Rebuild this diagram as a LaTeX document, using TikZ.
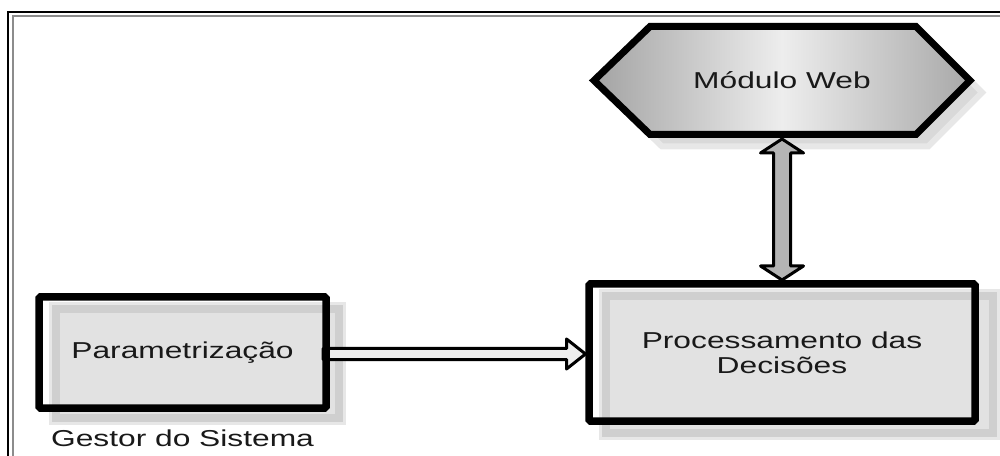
\documentclass[tikz,border=0pt]{standalone}
\usepackage{fontspec}
\setmainfont{Liberation Sans}[FakeStretch=1.38]
\usetikzlibrary{calc}
\pgfdeclarelayer{bg}
\pgfsetlayers{bg,main}
\definecolor{shfill}{HTML}{E2E2E2}
\definecolor{shband}{HTML}{CFCFCF}
\definecolor{shfade}{HTML}{E7E7E7}
\definecolor{framegray}{HTML}{8C8C8C}
\definecolor{arrowgray}{HTML}{B4B4B4}
\definecolor{arrowlight}{HTML}{EEEEEE}
\definecolor{hexshadow}{HTML}{D9D9D9}
\begin{document}
\begin{tikzpicture}[x=1pt,y=1pt,
  lbl/.style={font=\fontsize{23}{25}\selectfont, text=black!90, inner sep=0pt, outer sep=0pt},
  box/.style={draw=black, line width=7.5pt, rounded corners=1.5pt, inner sep=0pt, outer sep=0pt},
  shadowfade/.style={draw=shfade, line width=14pt},
  shadowband/.style={fill=shfill, draw=shband, line width=8pt},
  blockarrow/.style={draw=black, line width=3pt, line join=round},
  hexfill/.style={left color=black!36, right color=black!34, middle color=black!7, draw=black, line width=7pt, line join=miter},
]
\useasboundingbox (0,0) rectangle (1000,455);

% frame
\draw[black, line width=2.5pt] (8,-2) -- (8,443) -- (1002,443);
\draw[framegray, line width=2pt] (13,-2) -- (13,439) -- (1002,439);

% nodes
\node[box, lbl, minimum width=287pt, minimum height=111pt] (param) at (182.5,102.5) {Parametrização};
\node[box, lbl, align=center, minimum width=386pt, minimum height=137pt] (proc) at (782,102.5) {Processamento das\\Decisões};
\node[lbl, minimum width=376pt, minimum height=108pt] (web) at (782,374.5) {Módulo Web};
\node[lbl, anchor=base] (gestor) at (182.5,9) {Gestor do Sistema};

% hexagon corners
\coordinate (h1) at (web.west);
\coordinate (h2) at ($(web.north west)+(56,0)$);
\coordinate (h3) at ($(web.north east)+(-54,0)$);
\coordinate (h4) at (web.east);
\coordinate (h5) at ($(web.south east)+(-54,0)$);
\coordinate (h6) at ($(web.south west)+(56,0)$);

% connector end points
\coordinate (wt) at ($(web.south)+(0,-4.5)$);
\coordinate (pt) at ($(proc.north)+(0,4)$);
\coordinate (hs) at ($(param.east)+(-3,-1.5)$);
\coordinate (he) at ($(proc.west)+(-3.5,-1.5)$);

\begin{pgfonlayer}{bg}
  % box shadows
  \draw[shadowfade] ($(param.north west)+(17,-12)$) rectangle ($(param.south east)+(13,-10)$);
  \draw[shadowband] ($(param.north west)+(17,-12)$) rectangle ($(param.south east)+(13,-10)$);
  \draw[shadowfade] ($(proc.north west)+(17,-12)$) rectangle ($(proc.south east)+(18,-12)$);
  \draw[shadowband] ($(proc.north west)+(17,-12)$) rectangle ($(proc.south east)+(18,-12)$);
  % hexagon shadow
  \draw[fill=hexshadow, draw=shfade, line width=6pt, line join=miter]
    ($(h1)+(12,-12)$) -- ($(h2)+(12,-12)$) -- ($(h3)+(12,-12)$) -- ($(h4)+(12,-12)$)
    -- ($(h5)+(12,-12)$) -- ($(h6)+(12,-12)$) -- cycle;
  % hexagon
  \draw[hexfill] (h1) -- (h2) -- (h3) -- (h4) -- (h5) -- (h6) -- cycle;
  % horizontal block arrow
  \draw[blockarrow, fill=arrowlight]
    ($(hs)+(0,5.5)$) -- ($(he)+(-19,5.5)$) -- ($(he)+(-19,15)$) -- (he)
    -- ($(he)+(-19,-15)$) -- ($(he)+(-19,-5.5)$) -- ($(hs)+(0,-5.5)$) -- cycle;
  % vertical double block arrow
  \draw[blockarrow, fill=arrowgray]
    (wt) -- ($(wt)+(21.5,-14)$) -- ($(wt)+(8.5,-14)$) -- ($(pt)+(8.5,14)$)
    -- ($(pt)+(21.5,14)$) -- (pt) -- ($(pt)+(-21.5,14)$) -- ($(pt)+(-8.5,14)$)
    -- ($(wt)+(-8.5,-14)$) -- ($(wt)+(-21.5,-14)$) -- cycle;
\end{pgfonlayer}
\end{tikzpicture}
\end{document}
